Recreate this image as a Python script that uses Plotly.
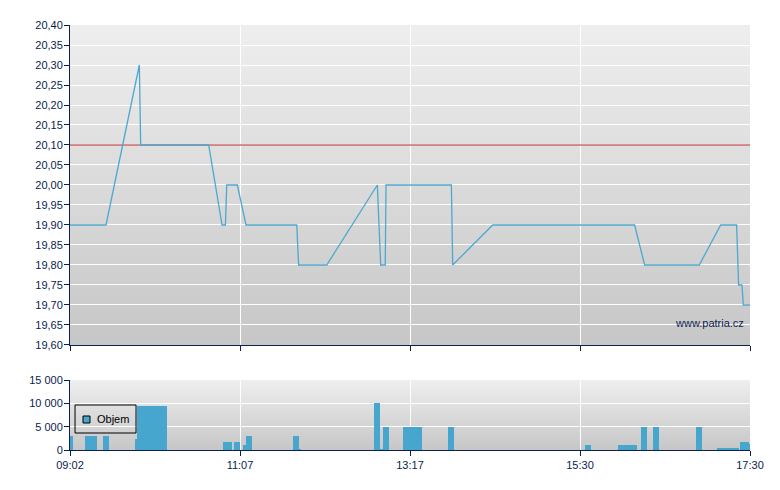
import plotly.graph_objects as go

# Price series (x = session minutes on chart scale, 0 = 09:02, 508 = 17:30)
price_x = [0, 26.9, 51.8, 52.8, 103.6, 113.6, 116.1, 117.1, 125.0, 131.5,
           169.4, 170.8, 191.8, 229.6, 232.1, 235.5, 236.1, 284.9, 285.9,
           315.8, 421.8, 429.3, 470.1, 486.1, 498.0, 499.5, 502.0, 503.0, 508]
price_y = [19.90, 19.90, 20.30, 20.10, 20.10, 19.90, 19.90, 20.00, 20.00, 19.90,
           19.90, 19.80, 19.80, 20.00, 19.80, 19.80, 20.00, 20.00, 19.80,
           19.90, 19.90, 19.80, 19.80, 19.90, 19.90, 19.75, 19.75, 19.70, 19.70]
ref_price = 20.10

# Volume buckets (start, end in session minutes) and traded volume
vol_start = [0, 11.2, 24.7, 49.3, 50.0, 114.3, 122.5, 129.2, 131.5, 166.6,
             171.1, 227.1, 231.6, 233.8, 248.8, 282.4, 384.7, 409.4, 426.6,
             435.5, 467.7, 483.4, 500.5, 507.2]
vol_end = [2.0, 20.2, 29.1, 50.0, 72.5, 121.0, 127.0, 131.5, 136.0, 171.1,
           172.6, 231.6, 233.8, 238.3, 263.0, 286.9, 389.2, 423.6, 431.1,
           440.0, 472.1, 499.8, 507.2, 508]
volume = [3000, 3000, 3000, 2400, 9500, 1700, 1700, 1100, 3000, 3000,
          200, 10000, 200, 5000, 5000, 5000, 1100, 1100, 5000,
          5000, 5000, 250, 1700, 1300]

tick_pos = [0, 127, 254, 381, 508]
tick_text = ['09:02', '11:07', '13:17', '15:30', '17:30']

navy = '#0A1E50'
blue = '#46A6CE'
font_family = 'Liberation Sans, Arial'

fig = go.Figure()

fig.add_trace(go.Scatter(
    x=[tick_pos[0], tick_pos[-1]], y=[ref_price, ref_price],
    mode='lines', line=dict(color='#BE2828', width=1),
    showlegend=False, hoverinfo='skip', xaxis='x', yaxis='y'))

fig.add_trace(go.Scatter(
    x=price_x, y=price_y, mode='lines',
    line=dict(color='#4DA8D0', width=1.3),
    showlegend=False, xaxis='x', yaxis='y'))

centers = [(s + e) / 2 for s, e in zip(vol_start, vol_end)]
widths = [e - s for s, e in zip(vol_start, vol_end)]
fig.add_trace(go.Bar(
    x=centers, y=volume, width=widths,
    marker=dict(color=blue, line=dict(width=0)),
    showlegend=False, xaxis='x2', yaxis='y2'))

# vertical gradient backgrounds (overlapping bands, no seams)
shapes = []
n = 40
for xref, yref in [('x domain', 'y domain'), ('x2 domain', 'y2 domain')]:
    for i in range(n):
        t = i / (n - 1)
        c = int(238 - (238 - 199) * t)
        shapes.append(dict(type='rect', xref=xref, yref=yref,
                           x0=0, x1=1, y0=0, y1=1 - i / n,
                           fillcolor=f'rgb({c},{c},{c})', line=dict(width=0),
                           layer='below'))

# hand-drawn legend box for the volume series
shapes.append(dict(type='rect', xref='paper', yref='paper',
                   x0=0.0074, x1=0.0971, y0=0.040, y1=0.1059,
                   line=dict(color='black', width=1), fillcolor='rgba(0,0,0,0)'))
shapes.append(dict(type='rect', xref='paper', yref='paper',
                   x0=0.0191, x1=0.0294, y0=0.0635, y1=0.080,
                   line=dict(color='black', width=1), fillcolor=blue))

axis_common = dict(showline=True, linecolor=navy, linewidth=1, ticks='outside',
                   ticklen=5, tickcolor=navy, showgrid=True, gridcolor='white',
                   gridwidth=1, zeroline=False,
                   tickfont=dict(family=font_family, size=11, color=navy))

fig.update_layout(
    width=780, height=490,
    margin=dict(l=62, r=38, t=17, b=48),
    paper_bgcolor='white', plot_bgcolor='rgba(0,0,0,0)',
    separators=', ',
    shapes=shapes,
    bargap=0,
    showlegend=False,
    xaxis=dict(axis_common, domain=[0, 1], anchor='y', range=[0, 508],
               tickvals=tick_pos, showticklabels=False),
    yaxis=dict(axis_common, domain=[0.2471, 1], anchor='x', range=[19.60, 20.40],
               dtick=0.05, tick0=19.60, tickformat='.2f', ticklabelstandoff=-1),
    xaxis2=dict(axis_common, domain=[0, 1], anchor='y2', range=[0, 508],
                tickvals=tick_pos, ticktext=tick_text),
    yaxis2=dict(axis_common, domain=[0, 0.1647], anchor='x2', range=[0, 15000],
                dtick=5000, tickformat=',', ticklabelstandoff=-1),
    annotations=[
        dict(text='www.patria.cz', xref='paper', yref='paper',
             x=0.994, y=0.2988, xanchor='right', yanchor='middle',
             showarrow=False, font=dict(family=font_family, size=11, color=navy)),
        dict(text='Objem', xref='paper', yref='paper',
             x=0.0368, y=0.0718, xanchor='left', yanchor='middle',
             showarrow=False, font=dict(family=font_family, size=11, color='black')),
    ],
    font=dict(family=font_family, size=11, color=navy),
)

fig.write_html('out.html')
